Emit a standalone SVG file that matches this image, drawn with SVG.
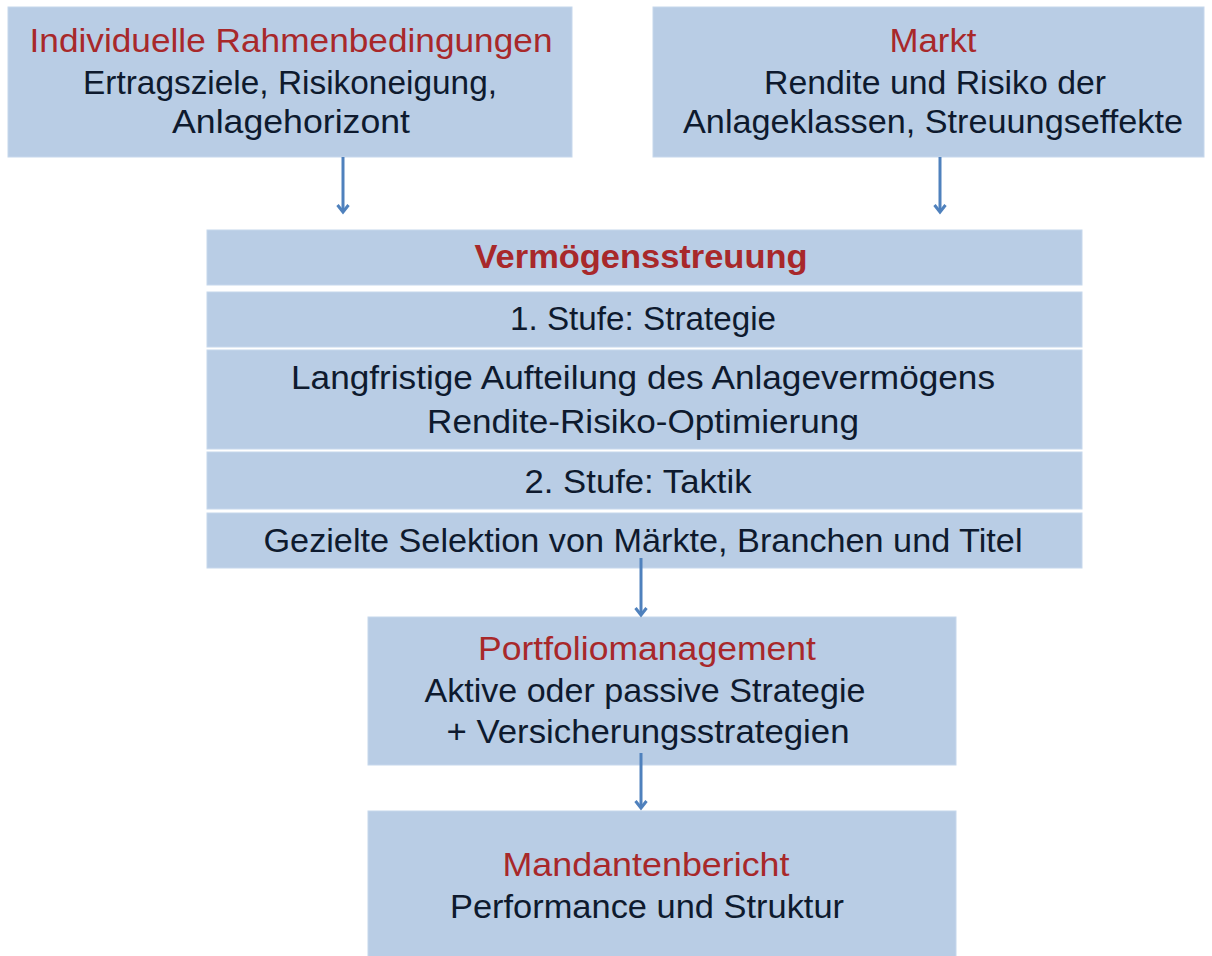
<svg xmlns="http://www.w3.org/2000/svg" width="1212" height="956" viewBox="0 0 1212 956">
<style>
.box{fill:#b9cde5;stroke:#c6d7ec;stroke-width:1}
text{font-family:"Liberation Sans",Arial,sans-serif;font-size:33px;text-anchor:middle}
.t{fill:#a8282a}
.d{fill:#0e1a2e}
.b{font-weight:bold}
.c{stroke:#4f81bd;stroke-width:3;fill:none}
</style>
<defs>
<marker id="ah" markerWidth="12" markerHeight="14" refX="9" refY="7" orient="auto" markerUnits="userSpaceOnUse" viewBox="0 0 12 14">
<path d="M2,1.5 L9,7 L2,12.5" fill="none" stroke="#4f81bd" stroke-width="3"/>
</marker>
</defs>
<rect width="1212" height="956" fill="#ffffff"/>
<g id="n1">
<rect class="box" x="8" y="7" width="564" height="150"/>
<text class="t" x="291" y="52" textLength="523" lengthAdjust="spacingAndGlyphs">Individuelle Rahmenbedingungen</text>
<text class="d" x="290" y="94" textLength="414" lengthAdjust="spacingAndGlyphs">Ertragsziele, Risikoneigung,</text>
<text class="d" x="291" y="133" textLength="238" lengthAdjust="spacingAndGlyphs">Anlagehorizont</text>
</g>
<g id="n2">
<rect class="box" x="653" y="7" width="551" height="150"/>
<text class="t" x="933" y="52" textLength="87" lengthAdjust="spacingAndGlyphs">Markt</text>
<text class="d" x="935" y="94" textLength="342" lengthAdjust="spacingAndGlyphs">Rendite und Risiko der</text>
<text class="d" x="933" y="133" textLength="500" lengthAdjust="spacingAndGlyphs">Anlageklassen, Streuungseffekte</text>
</g>
<g id="n3">
<rect class="box" x="207" y="230" width="875" height="55"/>
<text class="t b" x="641" y="268" textLength="333" lengthAdjust="spacingAndGlyphs">Vermögensstreuung</text>
</g>
<g id="n4">
<rect class="box" x="207" y="292" width="875" height="55"/>
<text class="d" x="643" y="330" textLength="266" lengthAdjust="spacingAndGlyphs">1. Stufe: Strategie</text>
</g>
<g id="n5">
<rect class="box" x="207" y="350" width="875" height="99"/>
<text class="d" x="643" y="389" textLength="704" lengthAdjust="spacingAndGlyphs">Langfristige Aufteilung des Anlagevermögens</text>
<text class="d" x="643" y="433" textLength="432" lengthAdjust="spacingAndGlyphs">Rendite-Risiko-Optimierung</text>
</g>
<g id="n6">
<rect class="box" x="207" y="452" width="875" height="57"/>
<text class="d" x="638" y="493" textLength="227" lengthAdjust="spacingAndGlyphs">2. Stufe: Taktik</text>
</g>
<g id="n7">
<rect class="box" x="207" y="513" width="875" height="55"/>
<text class="d" x="643" y="552" textLength="759" lengthAdjust="spacingAndGlyphs">Gezielte Selektion von Märkte, Branchen und Titel</text>
</g>
<g id="n8">
<rect class="box" x="368" y="617" width="588" height="148"/>
<text class="t" x="647" y="660" textLength="338" lengthAdjust="spacingAndGlyphs">Portfoliomanagement</text>
<text class="d" x="645" y="702" textLength="441" lengthAdjust="spacingAndGlyphs">Aktive oder passive Strategie</text>
<text class="d" x="648" y="743" textLength="403" lengthAdjust="spacingAndGlyphs">+ Versicherungsstrategien</text>
</g>
<g id="n9">
<rect class="box" x="368" y="811" width="588" height="150"/>
<text class="t" x="646" y="876" textLength="287" lengthAdjust="spacingAndGlyphs">Mandantenbericht</text>
<text class="d" x="647" y="918" textLength="394" lengthAdjust="spacingAndGlyphs">Performance und Struktur</text>
</g>
<g id="connectors">
<line class="c" x1="343" y1="157" x2="343" y2="212" marker-end="url(#ah)"/>
<line class="c" x1="940" y1="157" x2="940" y2="212" marker-end="url(#ah)"/>
<line class="c" x1="641" y1="558" x2="641" y2="615" marker-end="url(#ah)"/>
<line class="c" x1="641" y1="753" x2="641" y2="808" marker-end="url(#ah)"/>
</g>
</svg>
